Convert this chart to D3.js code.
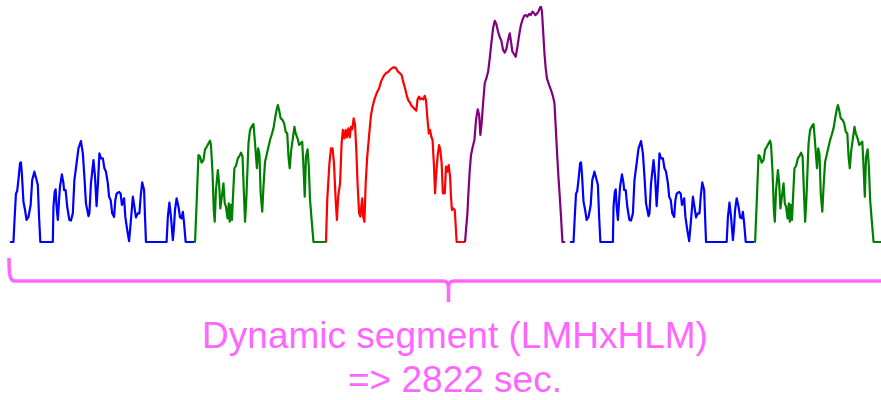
<!DOCTYPE html>
<html>
<head>
<meta charset="utf-8">
<script src="https://cdnjs.cloudflare.com/ajax/libs/d3/7.8.5/d3.min.js"></script>
<style>
  body { margin: 0; background: white; }
</style>
</head>
<body>
<div id="viz_area"></div>
<script>
// speed trace per phase, [seconds into phase, km/h]
var lowPhase = [[0,0],[11,0],[15,14],[19,27],[23,28.5],[28,36.5],[32,44],[35,44.5],[38,38],[43,22.5],[48,18],[53,12.3],[59,14],[66,20.7],[71,34.6],[78,39.3],[85,34.6],[89,31.8],[93,14],[97,0],[137,0],[139,19.7],[143,28],[146,29.4],[149,19.7],[153,12.3],[157,23.5],[160,31],[166,37.8],[171,32.8],[173,29],[178,29],[183,19.7],[190,12.3],[195,12],[201,16],[206,34.6],[213,44],[219,52.3],[227,56.4],[233,49.5],[238,36.5],[243,21.6],[251,14.5],[254,16],[259,32.8],[267,45.8],[272,36.5],[277,20],[282,34.6],[286,49.5],[291,46.7],[297,46.7],[302,41.2],[307,39.3],[313,32.8],[317,25.3],[322,23.5],[327,16],[333,14],[337,23.5],[341,27],[349,28],[354,27],[358,20.7],[365,24.4],[369,14],[375,6.7],[381,0.5],[386,10.4],[393,25.3],[398,19.7],[403,13.8],[409,16],[414,16],[418,25.3],[423,33.3],[429,29],[432,14],[435,0],[501,0],[505,14],[510,22],[515,14],[521,1],[524,6.7],[528,18],[533,24.4],[539,19.7],[544,13.8],[549,13.2],[553,16.9],[557,10.4],[562,0],[589,0]]

var mediumPhase = [[0,0],[2,0],[7.5,23.5],[13,48.6],[18,47.7],[23,44.3],[29,45.8],[34,51.8],[39.5,53.2],[45,55.1],[50,56.6],[53,54.2],[58,38.4],[62,17.9],[65,11.3],[69,29],[75,40.2],[79,32.8],[83,18.8],[89,27.2],[93,32.8],[97,21.6],[101,19.7],[106,13.2],[110,21.6],[113,11.3],[116,20.7],[120,12.3],[125,30.9],[128,41.2],[133,42.5],[139,46.8],[144,48],[149,49.9],[154,47.7],[158,29],[162,11.3],[166,23.5],[173,55.1],[178,62.6],[184,64.8],[189,65.9],[194,55.1],[200,41.2],[204,52.3],[208,49.2],[212,27.2],[217,16.9],[221,30.9],[226,44.9],[231,48.6],[237,53.2],[242,57],[247,59.8],[253,63.5],[258,69.1],[264,74.7],[267,76.5],[271,73.7],[276,69.1],[282,68.2],[287,66.3],[292,61.6],[297,60.7],[301,47.7],[305,41.2],[309,50.3],[315,57.9],[320,64.4],[324,60.7],[330,57.9],[335,54.2],[340,55.1],[345,56],[349,42.1],[353,25.3],[357,47.7],[362,51.8],[366,42.1],[370,23.5],[376,10.4],[381,0],[420,0]]

var highPhase = [[0,0],[1,0],[5,23.5],[12,44],[17,52.3],[22,52.3],[26.6,44],[32,23.5],[36,12.3],[40,25.3],[46,32.8],[51,55.1],[55,62.6],[60,57.9],[64,62.6],[68,58.5],[72.5,63.5],[77,58.5],[81,64.4],[85,63],[89.5,69.1],[94,65.4],[98,51.4],[102,32.8],[107,16],[111,14.2],[114,19.7],[117,24.4],[120,14.2],[124,11.3],[128,32.8],[133,47.7],[140,61.6],[145,70.9],[150,75.6],[156,79.7],[163,83.1],[171,85.9],[177,89.6],[184.5,92.4],[192,94.2],[200.5,95.1],[208,96.6],[216,97.6],[224,97.4],[230,95.5],[238,94.2],[243,93.3],[248,89.6],[254,85.9],[259,82.1],[264,79.3],[270,77.8],[275,76],[280,75.2],[286,74.1],[290,73.4],[294,79.7],[299,81.2],[303,79.7],[307,80.3],[312.5,79.7],[317,81.7],[321,79.3],[325,70],[330,60.7],[334,62.6],[338,58.8],[342,57],[346.6,42.1],[350,27.2],[353,36.5],[358,47.7],[363,54.2],[367,51.4],[371,44],[375,27.2],[381,27.2],[385,42.1],[389,39.3],[393.5,43],[398,36.5],[401,25.3],[404,17.9],[408.5,18.8],[413,17.9],[415,12.3],[419,0],[446,0]]

var extraHighPhase = [[0,0],[3,6.7],[7.5,16],[10.7,27.2],[15,40.2],[19,48.6],[24.5,53.2],[30,57],[35,68.2],[40.5,74.1],[45,71],[49,59.8],[53,66.3],[57.6,77.5],[63,88.7],[68,91.4],[73.6,95.1],[79,102.6],[84,111],[89.6,119.4],[95,123.6],[100,121.8],[105.6,117.5],[111,114.4],[116,112.5],[121.6,107.3],[127,105.8],[132,107.8],[137.6,112.8],[143,116.6],[147,111.9],[151.5,106.3],[157,104.9],[162,103.5],[167.5,109.1],[173,115.6],[178,120.7],[183.5,124],[189,126.3],[194,126.8],[199,125.9],[205,127.4],[210,126.8],[215.5,128.7],[221,127.8],[225,126.8],[229,127.4],[234.7,128.7],[240,131.1],[243,131.3],[246,128.7],[249.6,118.4],[254,105.4],[258,97],[262,91.4],[269,87.7],[275,84.9],[281.6,81.2],[286,77.5],[290,64.4],[294.4,49.5],[298.7,36.5],[303,25.3],[307,14.2],[311.5,0],[320,0]]

// order of the phases in the segment and where each one starts (s)
var segmentPhases = ["low", "medium", "high", "extraHigh", "low", "medium"]
var segmentStarts = [0, 590, 1010, 1456, 1792, 2382]
var phaseColors = {low: "blue", medium: "green", high: "red", extraHigh: "purple"}
var phaseData = {low: lowPhase, medium: mediumPhase, high: highPhase, extraHigh: extraHighPhase}

var totalSeconds = 2822
var maxSpeed = 131.3
var titleLines = ["Dynamic segment (LMHxHLM)", "=> " + totalSeconds + " sec."]

var width = 881, height = 400
var pink = "#ff66ff"

var svg = d3.select("#viz_area")
  .append("svg")
  .attr("width", width)
  .attr("height", height)

var xScale = d3.scaleLinear()
  .domain([0, totalSeconds])
  .range([10, 892])

var yScale = d3.scaleLinear()
  .domain([0, maxSpeed])
  .range([242, 7])

var line = d3.line()
  .x(function (d) { return d.x })
  .y(function (d) { return d.y })

// one path per phase
svg.append("g")
  .selectAll("path")
  .data(segmentPhases)
  .join("path")
  .attr("d", function (p, i) {
    var pts = phaseData[p].map(function (d) {
      return {x: xScale(segmentStarts[i] + d[0]), y: yScale(d[1])}
    })
    return line(pts)
  })
  .attr("fill", "none")
  .attr("stroke", function (p) { return phaseColors[p] })
  .attr("stroke-width", 2.2)
  .attr("stroke-linejoin", "round")

// curly brace under the whole segment
var bx0 = xScale(0) - 1, bx1 = width + 20
var bmid = (xScale(0) + width + 6) / 2
var by = 281
var brace = "M" + bx0 + ",258 C" + bx0 + ",276 " + (bx0 + 1) + "," + by + " " + (bx0 + 6) + "," + by +
  " L" + (bmid - 6) + "," + by +
  " C" + (bmid - 1) + "," + by + " " + bmid + "," + (by + 2) + " " + bmid + "," + (by + 9) +
  " L" + bmid + "," + (by + 21) +
  " M" + bmid + "," + (by + 9) +
  " C" + bmid + "," + (by + 2) + " " + (bmid + 1) + "," + by + " " + (bmid + 6) + "," + by +
  " L" + bx1 + "," + by

svg.append("path")
  .attr("d", brace)
  .attr("fill", "none")
  .attr("stroke", pink)
  .attr("stroke-width", 3.5)

svg.append("g")
  .selectAll("text")
  .data(titleLines)
  .join("text")
  .attr("x", 455)
  .attr("y", function (d, i) { return 348 + i * 44 })
  .attr("text-anchor", "middle")
  .style("font", "37px 'Liberation Sans', Arial, sans-serif")
  .attr("fill", pink)
  .text(function (d) { return d })
</script>
</body>
</html>
